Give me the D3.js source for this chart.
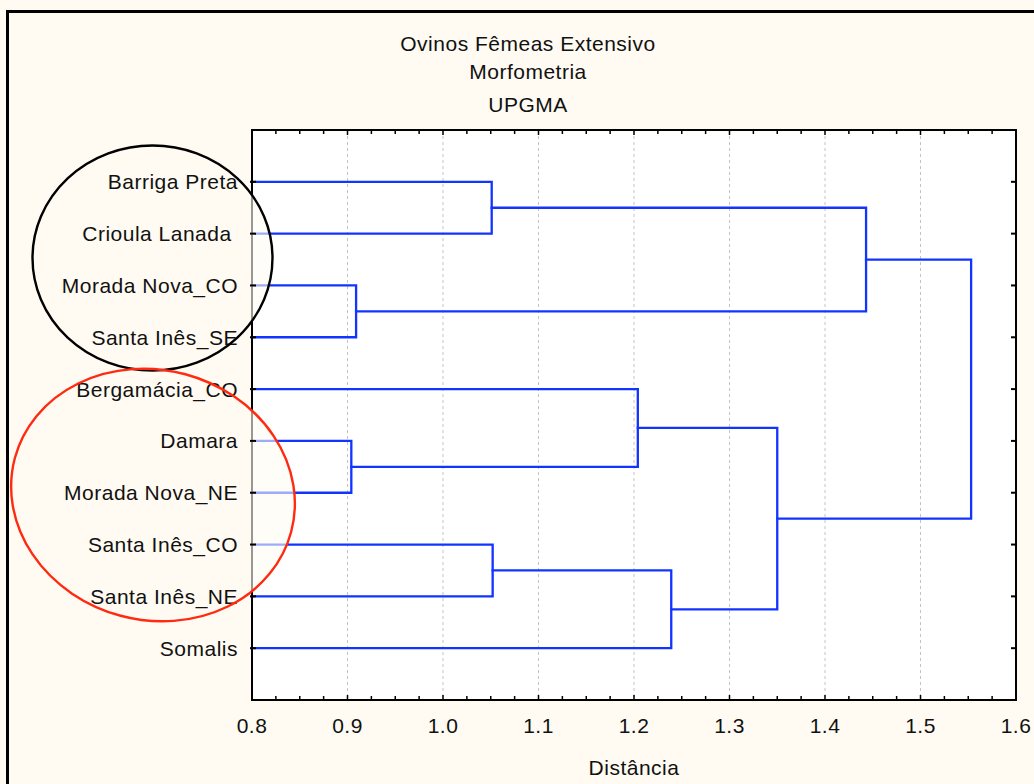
<!DOCTYPE html>
<html>
<head>
<meta charset="utf-8">
<script src="https://cdn.jsdelivr.net/npm/d3@7"></script>
<style>
  html, body { margin: 0; padding: 0; background: #fffbf2; }
  svg { display: block; }
  text { font-family: "Liberation Sans", Arial, sans-serif; fill: #111; letter-spacing: 0.5px; }
</style>
</head>
<body>
<svg id="chart" width="1034" height="784"></svg>
<script>
// Leaf order as shown on the vertical axis (top to bottom)
const leaves = ["Barriga Preta", "Crioula Lanada ", "Morada Nova_CO", "Santa Inês_SE",
                "Bergamácia_CO", "Damara", "Morada Nova_NE", "Santa Inês_CO",
                "Santa Inês_NE", "Somalis"];

// UPGMA merge steps: ids 0-9 are leaves, merge k creates cluster id 10+k
const mergeA = [5, 2, 0, 7, 4, 13, 14, 12, 17];
const mergeB = [6, 3, 1, 8, 10, 9, 15, 11, 16];
const mergeHeight = [0.904, 0.909, 1.051, 1.052, 1.204, 1.239, 1.350, 1.443, 1.553];

const xTicks = [0.8, 0.9, 1.0, 1.1, 1.2, 1.3, 1.4, 1.5, 1.6];
const titleLines = ["Ovinos Fêmeas Extensivo", "Morfometria", "UPGMA"];
const xTitle = "Distância";

const W = 1034, H = 784;
const plot = { left: 252, top: 130, right: 1016, bottom: 700 };
const bg = "#fffbf2";
const blue = "#1234ff";

const svg = d3.select("#chart");

// Outer frame
svg.append("rect").attr("x", 0).attr("y", 0).attr("width", W).attr("height", H).attr("fill", bg);
svg.append("rect").attr("x", 7.5).attr("y", 11.5).attr("width", W + 20).attr("height", H + 20)
  .attr("fill", "none").attr("stroke", "#000").attr("stroke-width", 3);

// Plot area
svg.append("rect").attr("x", plot.left).attr("y", plot.top)
  .attr("width", plot.right - plot.left).attr("height", plot.bottom - plot.top)
  .attr("fill", "#fff");

const x = d3.scaleLinear().domain([0.8, 1.6]).range([plot.left, plot.right]);
const y = d3.scalePoint().domain(d3.range(-1, leaves.length + 1)).range([plot.top, plot.bottom]);

// Dashed vertical grid
svg.append("g").selectAll("line").data(xTicks.slice(1, -1)).join("line")
  .attr("x1", d => x(d)).attr("x2", d => x(d))
  .attr("y1", plot.top).attr("y2", plot.bottom)
  .attr("stroke", "#c4c4c4").attr("stroke-width", 1).attr("stroke-dasharray", "3,3");

// Build the cluster tree from the merge steps
const nodes = leaves.map((name, i) => ({ name, index: i, height: 0.8 }));
mergeA.forEach((a, k) => {
  nodes.push({ name: "c" + k, height: mergeHeight[k], children: [nodes[a], nodes[mergeB[k]]] });
});
const root = d3.hierarchy(nodes[nodes.length - 1]);
root.eachAfter(n => {
  n.py = n.children ? d3.mean(n.children, c => c.py) : y(n.data.index);
  n.px = x(n.data.height);
});

const g = svg.append("g").attr("fill", "none").attr("stroke", blue)
  .attr("stroke-width", 2.3).attr("stroke-linecap", "square");
root.descendants().filter(n => n.children).forEach(n => {
  const [c1, c2] = n.children;
  g.append("path").attr("d", d3.line()([[c1.px, c1.py], [n.px, c1.py], [n.px, c2.py], [c2.px, c2.py]]))
    .attr("stroke-linejoin", "miter");
});

// Axis frame and ticks
const frame = svg.append("g").attr("stroke", "#000");
frame.append("rect").attr("x", plot.left).attr("y", plot.top)
  .attr("width", plot.right - plot.left).attr("height", plot.bottom - plot.top)
  .attr("fill", "none").attr("stroke-width", 2);

const minor = d3.range(0, 33).map(i => 0.8 + i * 0.025);
[plot.top, plot.bottom].forEach((yy, k) => {
  const dir = k === 0 ? 1 : -1;
  frame.append("g").selectAll("line").data(minor).join("line")
    .attr("x1", d => x(d)).attr("x2", d => x(d))
    .attr("y1", yy).attr("y2", (d, i) => yy + dir * (i % 4 === 0 ? 5 : 4))
    .attr("stroke-width", 1.5);
});
frame.append("g").selectAll("line").data(leaves.map((d, i) => i)).join("line")
  .attr("x1", plot.right).attr("x2", plot.right - 5)
  .attr("y1", d => y(d)).attr("y2", d => y(d)).attr("stroke-width", 2);

// Tick labels on the distance axis
svg.append("g").selectAll("text").data(xTicks).join("text")
  .attr("x", d => x(d)).attr("y", 733)
  .attr("text-anchor", "middle").attr("font-size", 21)
  .text(d => d.toFixed(1));

svg.append("text").attr("x", (plot.left + plot.right) / 2).attr("y", 775)
  .attr("text-anchor", "middle").attr("font-size", 21).text(xTitle);

// Title block
const titleY = [51, 79, 112];
svg.append("g").selectAll("text").data(titleLines).join("text")
  .attr("x", 528).attr("y", (d, i) => titleY[i])
  .attr("text-anchor", "middle").attr("font-size", 21).text(d => d);

// Group highlight ellipses
const groups = [
  { cx: 152.5, cy: 258, rx: 120, ry: 112.5, rot: 0, color: "#000" },
  { cx: 153, cy: 495, rx: 143, ry: 125, rot: 15, color: "#ff2a10" }
];
svg.append("g").selectAll("ellipse").data(groups).join("ellipse")
  .attr("cx", d => d.cx).attr("cy", d => d.cy).attr("rx", d => d.rx).attr("ry", d => d.ry)
  .attr("transform", d => `rotate(${d.rot},${d.cx},${d.cy})`)
  .attr("fill", bg).attr("fill-opacity", 0.6).attr("stroke", "none");

// Left-axis ticks and leaf labels
svg.append("g").selectAll("line").data(leaves.map((d, i) => i)).join("line")
  .attr("x1", plot.left - 2).attr("x2", plot.left + 4)
  .attr("y1", d => y(d)).attr("y2", d => y(d)).attr("stroke", "#000").attr("stroke-width", 2);
svg.append("g").selectAll("text").data(leaves).join("text")
  .attr("x", 238).attr("y", (d, i) => y(i)).attr("dy", "0.36em")
  .attr("text-anchor", "end").attr("font-size", 21)
  .style("white-space", "pre")
  .text(d => d);

svg.append("g").selectAll("ellipse").data(groups).join("ellipse")
  .attr("cx", d => d.cx).attr("cy", d => d.cy).attr("rx", d => d.rx).attr("ry", d => d.ry)
  .attr("transform", d => `rotate(${d.rot},${d.cx},${d.cy})`)
  .attr("fill", "none").attr("stroke", d => d.color).attr("stroke-width", 2.4);
</script>
</body>
</html>
